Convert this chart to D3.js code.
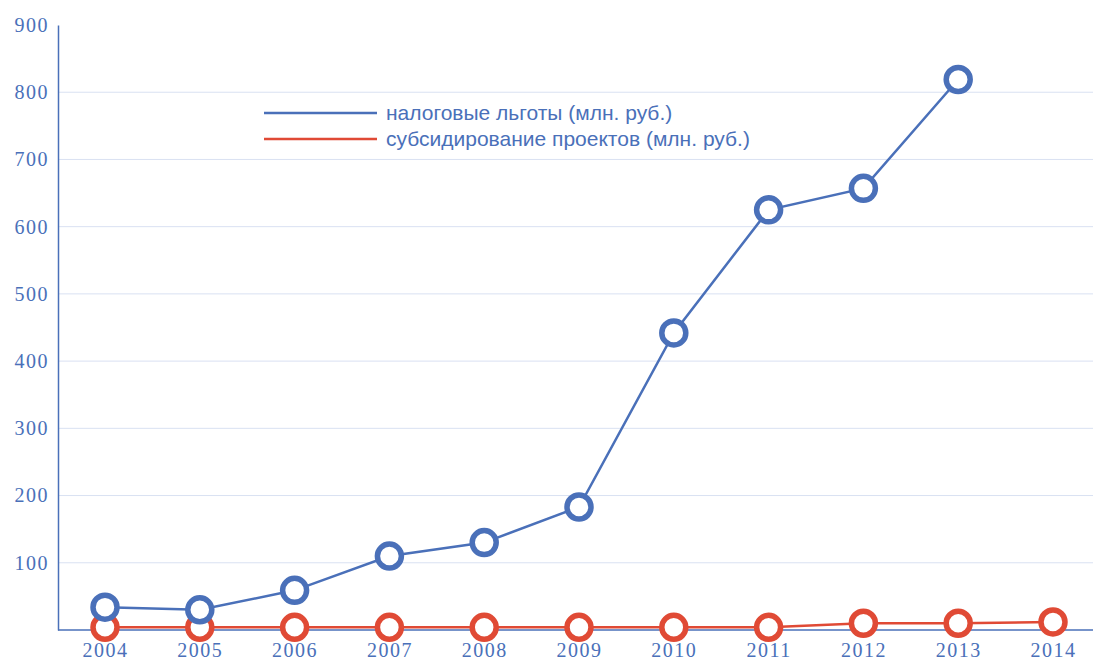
<!DOCTYPE html>
<html>
<head>
<meta charset="utf-8">
<script src="https://cdn.jsdelivr.net/npm/d3@7"></script>
<style>
    body { margin: 0; background: #fff; }
    .tick text { font-family: "Liberation Serif", serif; }
</style>
</head>
<body>
<script>
const w = 1093;
const h = 662;

const years = ["2004", "2005", "2006", "2007", "2008", "2009", "2010", "2011", "2012", "2013", "2014"];
const taxBenefits = [34, 30, 59, 110, 130, 183, 442, 625, 657, 819, null];
const subsidies = [4, 4, 4, 4, 4, 4, 4, 4, 10, 10, 12];
const yTicks = [100, 200, 300, 400, 500, 600, 700, 800, 900];
const seriesNames = ["налоговые льготы (млн. руб.)", "субсидирование проектов (млн. руб.)"];

const blue = "#4a70b9";
const red = "#e04a35";
const grid = "#d9e1f2";

const plotLeft = 58, plotRight = 1093, plotTop = 25, plotBottom = 630;

const svg = d3.select("body")
    .append("svg")
    .attr("width", w)
    .attr("height", h);

// category centres run from 2004 at ~105 to 2014 at ~1053
const x = d3.scalePoint()
    .domain(years)
    .range([105, 1053]);

const y = d3.scaleLinear()
    .domain([0, 900])
    .range([plotBottom, plotTop]);

// gridlines
svg.append("g")
    .selectAll("line")
    .data(yTicks.filter(d => d < 900))
    .enter()
    .append("line")
    .attr("x1", plotLeft)
    .attr("x2", plotRight)
    .attr("y1", d => y(d))
    .attr("y2", d => y(d))
    .attr("stroke", grid)
    .attr("stroke-width", 1);

// y axis
const yAxis = svg.append("g")
    .attr("transform", `translate(${plotLeft},0)`)
    .call(d3.axisLeft(y).tickValues(yTicks).tickSize(0).tickPadding(9));
yAxis.select(".domain").attr("stroke", blue).attr("stroke-width", 1.5);
yAxis.selectAll("text")
    .attr("fill", blue)
    .style("font-size", "20px")
    .style("letter-spacing", "1.5px");

// x axis
const xAxis = svg.append("g")
    .attr("transform", `translate(0,${plotBottom})`)
    .call(d3.axisBottom(x).tickSize(0).tickPadding(13));
xAxis.select(".domain")
    .attr("d", `M${plotLeft},0H${plotRight}`)
    .attr("stroke", blue).attr("stroke-width", 1.5);
xAxis.selectAll("text")
    .attr("fill", blue)
    .style("font-size", "20px")
    .style("letter-spacing", "1.5px");

const line = d3.line()
    .defined(d => d.v !== null)
    .x(d => x(d.year))
    .y(d => y(d.v));

function drawSeries(values, color) {
    const pts = years.map((yr, i) => ({ year: yr, v: values[i] }));
    svg.append("path")
        .datum(pts)
        .attr("d", line)
        .attr("fill", "none")
        .attr("stroke", color)
        .attr("stroke-width", 2.5);
    svg.append("g")
        .selectAll("circle")
        .data(pts.filter(d => d.v !== null))
        .enter()
        .append("circle")
        .attr("cx", d => x(d.year))
        .attr("cy", d => y(d.v))
        .attr("r", 12)
        .attr("fill", "#fff")
        .attr("stroke", color)
        .attr("stroke-width", 5.5);
}

drawSeries(subsidies, red);
drawSeries(taxBenefits, blue);

// legend
const legend = svg.append("g");
const legendColors = [blue, red];
seriesNames.forEach((name, i) => {
    const ly = 113 + i * 26;
    legend.append("line")
        .attr("x1", 264).attr("x2", 377)
        .attr("y1", ly).attr("y2", ly)
        .attr("stroke", legendColors[i])
        .attr("stroke-width", 2.5);
    legend.append("text")
        .attr("x", 386)
        .attr("y", ly)
        .attr("dy", "0.35em")
        .attr("fill", blue)
        .style("font-family", "'Liberation Sans', Arial, sans-serif")
        .style("font-size", "21px")
        .text(name);
});
</script>
</body>
</html>
